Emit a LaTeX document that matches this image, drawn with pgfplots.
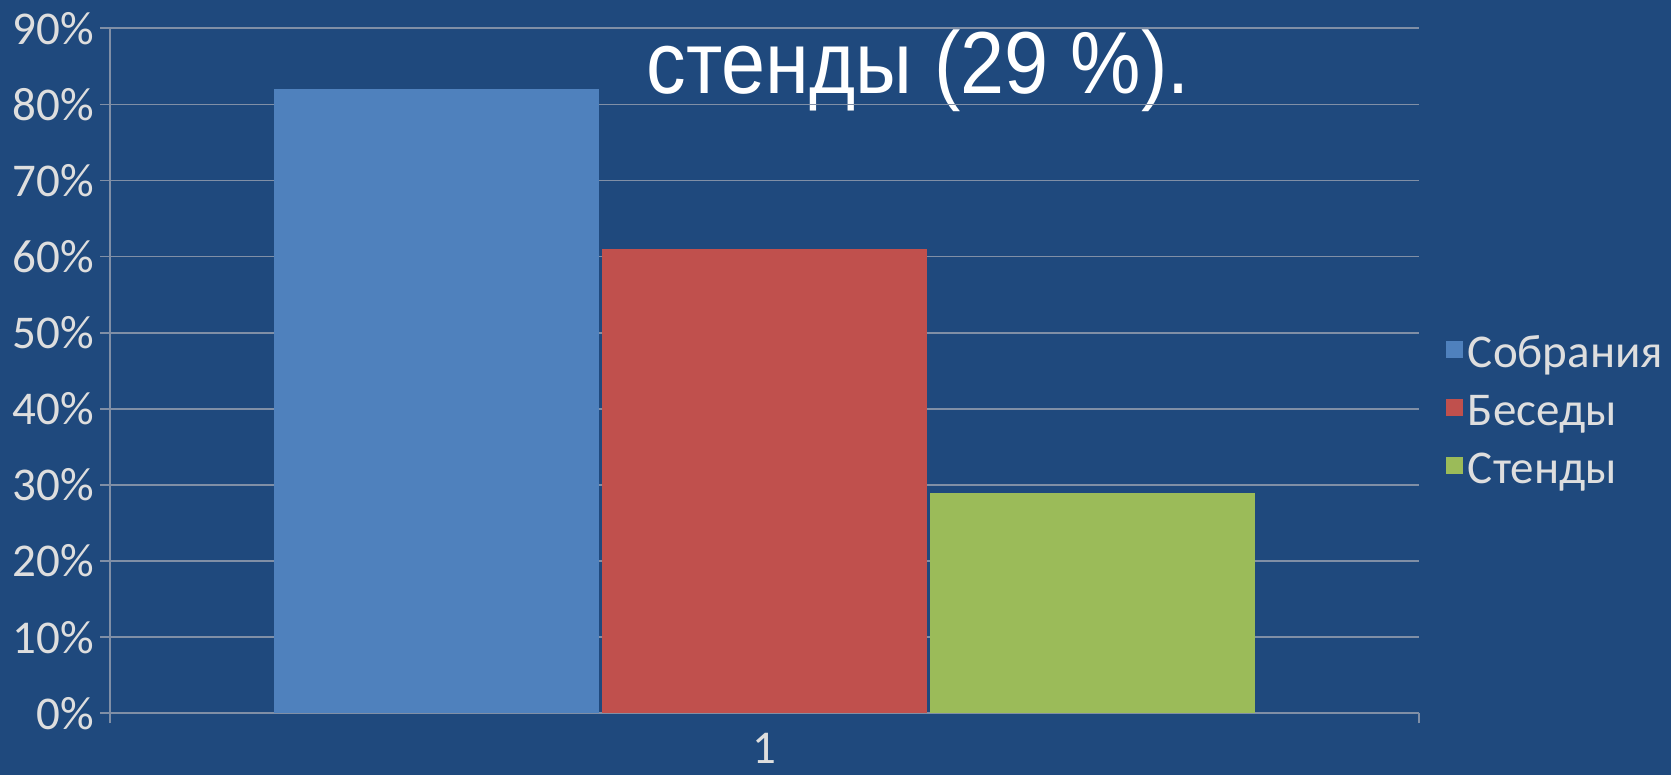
\documentclass[border=0pt]{standalone}
\usepackage{pgfplots}
\pgfplotsset{compat=1.18}
\usepackage{fontspec}
\setmainfont{Carlito}
\newfontfamily\titlefont[FakeStretch=0.9]{Liberation Sans}
\definecolor{bg}{RGB}{31,73,125}
\definecolor{gridc}{RGB}{128,143,166}
\definecolor{tickc}{RGB}{222,222,222}
\definecolor{cA}{RGB}{79,129,189}
\definecolor{cB}{RGB}{192,80,77}
\definecolor{cC}{RGB}{155,187,89}
\begin{document}
\begin{tikzpicture}
\fill[bg, use as bounding box] (0,0) rectangle (835.5pt,387.5pt);
\node[anchor=base west, inner sep=0pt, text=white, font=\titlefont\fontsize{44}{52}\selectfont] at (323pt,340.85pt) {стенды (29 \%).};
\begin{axis}[
  at={(55pt,30.85pt)}, anchor=south west,
  scale only axis, width=654.5pt, height=342.5pt,
  xmin=0.5, xmax=1.5, ymin=0, ymax=90,
  ytick={0,10,...,90},
  yticklabel={\pgfmathprintnumber{\tick}\%},
  xtick={0.5,1.5}, xticklabels={},
  extra x ticks={1}, extra x tick labels={1},
  extra x tick style={major tick length=0pt, xticklabel style={anchor=base, inner sep=0pt, yshift=-25pt}},
  axis x line*=bottom, axis y line*=left,
  axis line style={-, draw=gridc, line width=0.8pt},
  ymajorgrids, grid style={draw=gridc, line width=0.8pt},
  tick align=outside, major tick length=5pt,
  tick style={draw=gridc, line width=0.8pt},
  ticklabel style={text=tickc, font=\fontsize{23.5}{28}\selectfont},
  /pgf/number format/assume math mode=true,
  yticklabel style={inner sep=0pt, xshift=-3pt},
  legend style={at={(1.0206,0.4394)}, anchor=west, draw=none, fill=none,
    inner sep=0pt, outer sep=0pt, text=tickc, font=\fontsize{23.5}{28}\selectfont,
    row sep=6pt, column sep=2.5pt,
    nodes={inner sep=0pt, text height=18pt, text depth=5pt}},
  legend cell align=left,
]
\addplot[ybar, bar width=0.248, bar shift=-0.2506, fill=cA, draw=none,
  legend image code/.code={\fill[cA] (0pt,-1.8pt) rectangle (8.5pt,6.7pt);}] coordinates {(1,82)};
\addplot[ybar, bar width=0.248, bar shift=0, fill=cB, draw=none,
  legend image code/.code={\fill[cB] (0pt,-1.8pt) rectangle (8.5pt,6.7pt);}] coordinates {(1,61)};
\addplot[ybar, bar width=0.248, bar shift=0.2506, fill=cC, draw=none,
  legend image code/.code={\fill[cC] (0pt,-1.8pt) rectangle (8.5pt,6.7pt);}] coordinates {(1,29)};
\legend{Собрания,Беседы,Стенды}
\end{axis}
\end{tikzpicture}
\end{document}
